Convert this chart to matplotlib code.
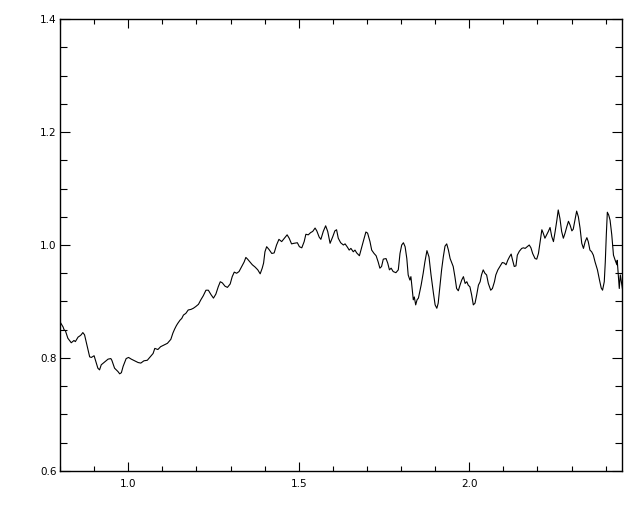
#!/usr/bin/env python3
import matplotlib
matplotlib.use('Agg')
import matplotlib.pyplot as plt
import matplotlib.ticker as mticker

# wavelength / flux
wave = [
    0.802, 0.809, 0.812, 0.816, 0.823, 0.833, 0.841, 0.845, 0.853, 0.858,
    0.862, 0.867, 0.872, 0.880, 0.887, 0.892, 0.900, 0.904, 0.911, 0.916,
    0.921, 0.931, 0.941, 0.949, 0.952, 0.960, 0.965, 0.970, 0.975, 0.980,
    0.985, 0.994, 1.001, 1.009, 1.019, 1.029, 1.037, 1.046, 1.056, 1.063,
    1.073, 1.078, 1.087, 1.095, 1.105, 1.115, 1.125, 1.131, 1.136, 1.141,
    1.145, 1.152, 1.157, 1.162, 1.169, 1.176, 1.184, 1.191, 1.198, 1.206,
    1.213, 1.220, 1.228, 1.235, 1.243, 1.250, 1.257, 1.264, 1.270, 1.276,
    1.284, 1.291, 1.299, 1.305, 1.311, 1.318, 1.325, 1.333, 1.340, 1.345,
    1.350, 1.357, 1.364, 1.372, 1.380, 1.387, 1.393, 1.397, 1.401, 1.406,
    1.413, 1.421, 1.428, 1.435, 1.442, 1.450, 1.458, 1.466, 1.472, 1.479,
    1.486, 1.496, 1.502, 1.509, 1.516, 1.521, 1.528, 1.535, 1.541, 1.548,
    1.553, 1.560, 1.565, 1.572, 1.579, 1.585, 1.592, 1.600, 1.606, 1.611,
    1.616, 1.623, 1.631, 1.636, 1.643, 1.648, 1.653, 1.660, 1.665, 1.670,
    1.678, 1.685, 1.691, 1.697, 1.702, 1.709, 1.714, 1.721, 1.727, 1.733,
    1.738, 1.743, 1.748, 1.756, 1.761, 1.766, 1.771, 1.777, 1.785, 1.792,
    1.797, 1.802, 1.807, 1.812, 1.817, 1.821, 1.826, 1.829, 1.833, 1.836,
    1.839, 1.843, 1.847, 1.851, 1.856, 1.859, 1.865, 1.870, 1.876, 1.882,
    1.888, 1.895, 1.900, 1.905, 1.909, 1.914, 1.919, 1.924, 1.929, 1.934,
    1.939, 1.944, 1.949, 1.953, 1.958, 1.963, 1.968, 1.973, 1.978, 1.983,
    1.988, 1.993, 1.997, 2.002, 2.007, 2.012, 2.017, 2.022, 2.027, 2.032,
    2.036, 2.041, 2.046, 2.051, 2.056, 2.063, 2.068, 2.074, 2.078, 2.084,
    2.090, 2.097, 2.103, 2.108, 2.113, 2.118, 2.123, 2.126, 2.132, 2.137,
    2.141, 2.147, 2.154, 2.159, 2.164, 2.170, 2.176, 2.181, 2.186, 2.193,
    2.198, 2.203, 2.208, 2.213, 2.217, 2.222, 2.227, 2.232, 2.237, 2.242,
    2.247, 2.252, 2.257, 2.261, 2.266, 2.271, 2.276, 2.281, 2.286, 2.291,
    2.296, 2.301, 2.305, 2.310, 2.315, 2.320, 2.325, 2.330, 2.335, 2.340,
    2.345, 2.349, 2.354, 2.359, 2.364, 2.369, 2.376, 2.382, 2.387, 2.391,
    2.396, 2.399, 2.402, 2.405, 2.409, 2.413, 2.418, 2.423, 2.428, 2.433,
    2.434, 2.437, 2.440, 2.443, 2.447, 2.450,
]
flux = [
    0.862, 0.855, 0.850, 0.848, 0.835, 0.827, 0.831, 0.829, 0.837, 0.839,
    0.841, 0.845, 0.841, 0.820, 0.802, 0.801, 0.804, 0.796, 0.782, 0.779,
    0.788, 0.793, 0.798, 0.799, 0.796, 0.782, 0.779, 0.776, 0.772, 0.774,
    0.785, 0.799, 0.801, 0.798, 0.795, 0.792, 0.791, 0.795, 0.796, 0.801,
    0.808, 0.817, 0.815, 0.820, 0.823, 0.826, 0.833, 0.844, 0.851, 0.857,
    0.861, 0.867, 0.870, 0.876, 0.879, 0.885, 0.886, 0.888, 0.891, 0.895,
    0.903, 0.910, 0.920, 0.920, 0.912, 0.906, 0.913, 0.926, 0.935, 0.933,
    0.927, 0.925, 0.931, 0.944, 0.952, 0.950, 0.953, 0.962, 0.970, 0.978,
    0.975, 0.970, 0.965, 0.961, 0.956, 0.949, 0.959, 0.968, 0.988, 0.997,
    0.992, 0.985, 0.986, 1.000, 1.010, 1.006, 1.012, 1.018, 1.012, 1.002,
    1.003, 1.004, 0.997, 0.995, 1.006, 1.019, 1.018, 1.022, 1.024, 1.030,
    1.025, 1.014, 1.010, 1.024, 1.034, 1.024, 1.003, 1.015, 1.025, 1.027,
    1.012, 1.004, 1.000, 1.002, 0.996, 0.991, 0.994, 0.988, 0.991, 0.986,
    0.981, 0.997, 1.010, 1.023, 1.021, 1.006, 0.991, 0.985, 0.981, 0.970,
    0.959, 0.962, 0.975, 0.976, 0.968, 0.956, 0.959, 0.953, 0.951, 0.956,
    0.985, 1.000, 1.004, 0.997, 0.976, 0.947, 0.938, 0.944, 0.920, 0.903,
    0.908, 0.894, 0.903, 0.906, 0.920, 0.929, 0.950, 0.970, 0.990, 0.979,
    0.947, 0.915, 0.894, 0.888, 0.897, 0.926, 0.956, 0.979, 0.998, 1.002,
    0.991, 0.976, 0.968, 0.962, 0.944, 0.923, 0.919, 0.929, 0.938, 0.944,
    0.932, 0.935, 0.929, 0.926, 0.912, 0.894, 0.897, 0.912, 0.929, 0.935,
    0.947, 0.956, 0.950, 0.947, 0.932, 0.920, 0.923, 0.935, 0.947, 0.956,
    0.962, 0.969, 0.968, 0.965, 0.973, 0.979, 0.984, 0.976, 0.962, 0.963,
    0.982, 0.989, 0.994, 0.995, 0.994, 0.997, 1.000, 0.995, 0.985, 0.976,
    0.975, 0.985, 1.006, 1.027, 1.021, 1.012, 1.018, 1.024, 1.031, 1.015,
    1.006, 1.024, 1.044, 1.062, 1.047, 1.024, 1.012, 1.021, 1.032, 1.042,
    1.035, 1.025, 1.028, 1.044, 1.060, 1.050, 1.030, 1.003, 0.994, 1.006,
    1.013, 1.006, 0.991, 0.988, 0.982, 0.970, 0.956, 0.938, 0.924, 0.920,
    0.935, 0.970, 1.018, 1.058, 1.053, 1.044, 1.018, 0.982, 0.973, 0.965,
    0.973, 0.947, 0.923, 0.947, 0.932, 0.920,
]

fig = plt.figure(figsize=(6.4, 5.12), dpi=100)
ax = fig.add_axes([60 / 640, 41 / 512, 562 / 640, 452 / 512])

ax.plot(wave, flux, color='black', linewidth=0.8)

ax.set_xlim(0.8, 2.448)
ax.set_ylim(0.6, 1.4)

ax.xaxis.set_major_locator(mticker.MultipleLocator(0.5))
ax.xaxis.set_minor_locator(mticker.MultipleLocator(0.1))
ax.yaxis.set_major_locator(mticker.MultipleLocator(0.2))
ax.yaxis.set_minor_locator(mticker.MultipleLocator(0.05))
ax.xaxis.set_major_formatter(mticker.FormatStrFormatter('%.1f'))
ax.yaxis.set_major_formatter(mticker.FormatStrFormatter('%.1f'))

ax.tick_params(axis='both', which='both', direction='in',
               top=True, right=True, width=0.8, labelsize=7.5)
ax.tick_params(axis='x', which='major', length=6.5, pad=6)
ax.tick_params(axis='x', which='minor', length=3.6)
ax.tick_params(axis='y', which='major', length=7, pad=2.5)
ax.tick_params(axis='y', which='minor', length=4.7)

for s in ax.spines.values():
    s.set_linewidth(1.0)

fig.savefig('out.png', dpi=100)
